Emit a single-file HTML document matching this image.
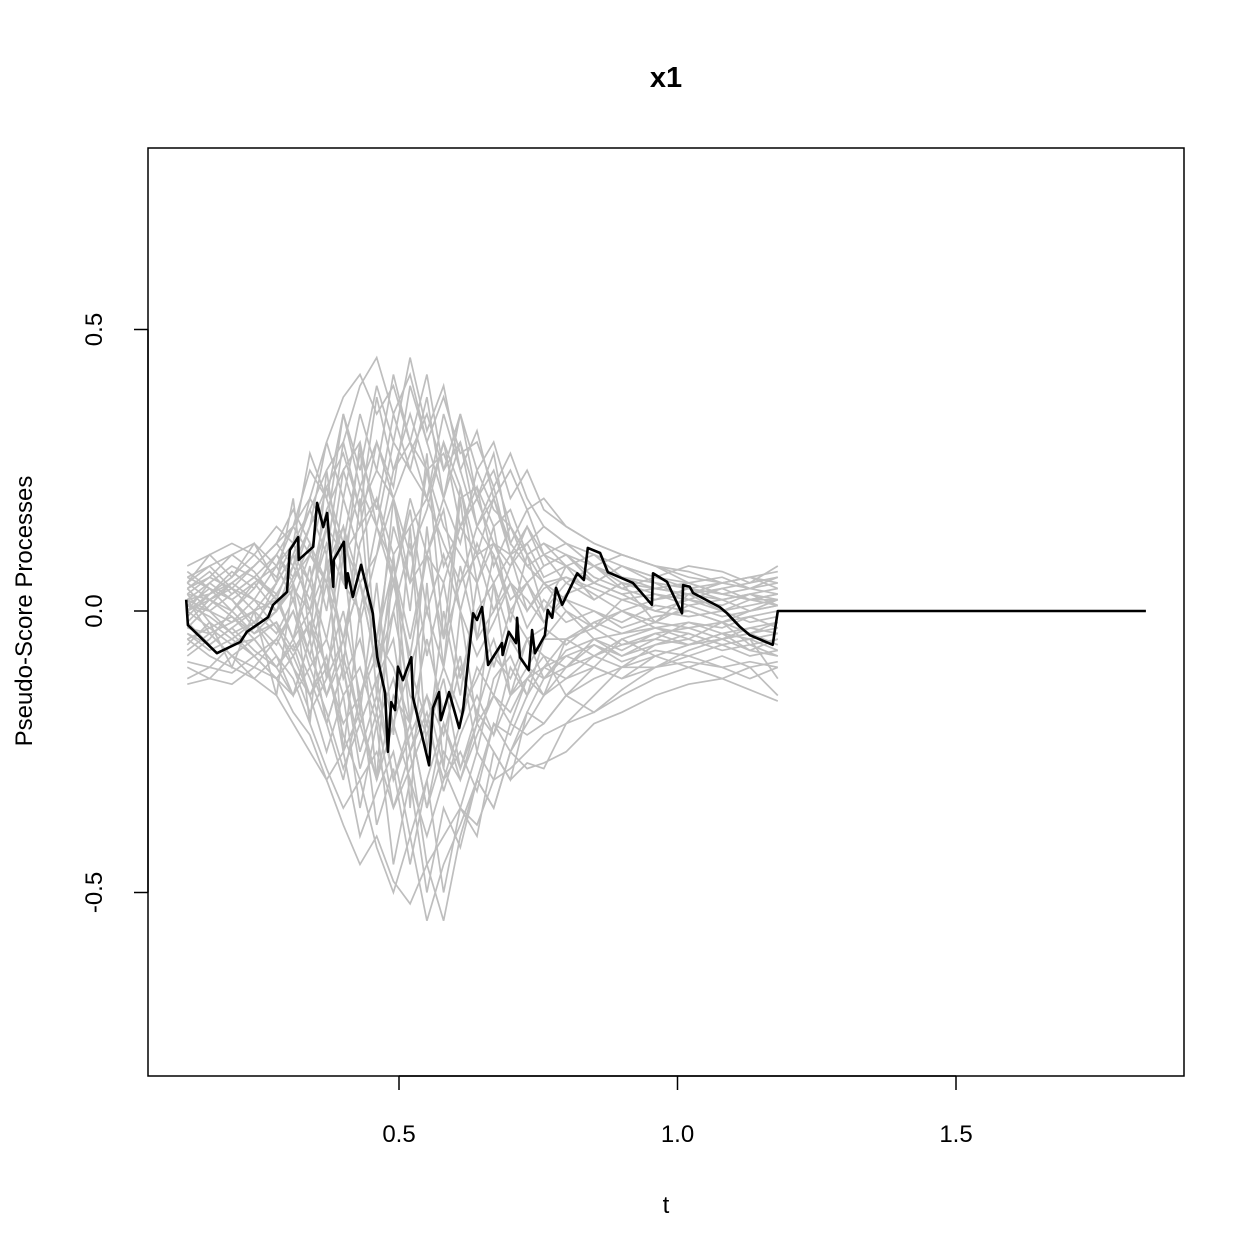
<!DOCTYPE html>
<html><head><meta charset="utf-8"><style>
html,body{margin:0;padding:0;background:#fff;}
svg{display:block;font-family:"Liberation Sans",Arial,sans-serif;}
</style></head><body>
<svg id="chart" width="1260" height="1260" viewBox="0 0 1260 1260">
<text x="666" y="87" text-anchor="middle" font-size="29" font-weight="bold">x1</text>
<g id="gray"></g>
<g id="obs"></g>
<rect x="148" y="148" width="1036" height="928" fill="none" stroke="#000" stroke-width="1.5"/>
<g id="xaxis"></g>
<g id="yaxis"></g>
<text x="666" y="1213" text-anchor="middle" font-size="24">t</text>
<text transform="translate(32,611) rotate(-90)" text-anchor="middle" font-size="24">Pseudo-Score Processes</text>
</svg>
<script>
const xTicks=[0.5,1.0,1.5];
const xTickLabels=["0.5","1.0","1.5"];
const yTicks=[-0.5,0.0,0.5];
const yTickLabels=["-0.5","0.0","0.5"];
const grayT=[0.12,0.16,0.2,0.24,0.28,0.31,0.34,0.37,0.40,0.43,0.46,0.49,0.52,0.55,0.58,0.61,0.64,0.67,0.70,0.73,0.76,0.80,0.85,0.90,0.96,1.02,1.08,1.13,1.18];
const grayS1=[0.02,0.05,0.08,0.06,0.1,0.15,0.2,0.3,0.38,0.42,0.35,0.4,0.3,0.25,0.28,0.2,0.22,0.15,0.18,0.1,0.12,0.08,0.1,0.06,0.05,0.04,0.03,0.02,0.03];
const grayS2=[-0.05,-0.08,-0.1,-0.12,-0.15,-0.2,-0.25,-0.3,-0.38,-0.45,-0.4,-0.48,-0.52,-0.45,-0.4,-0.35,-0.38,-0.3,-0.28,-0.25,-0.22,-0.2,-0.18,-0.15,-0.12,-0.1,-0.08,-0.1,-0.09];
const grayS3=[0.05,0.08,0.1,0.07,0.02,-0.05,0.05,0.15,0.1,0.22,0.3,0.2,0.28,0.35,0.25,0.3,0.2,0.25,0.15,0.1,0.05,0.02,0.0,-0.02,0.01,0.0,-0.02,0.0,0.01];
const grayS4=[-0.1,-0.12,-0.08,-0.05,-0.1,-0.15,-0.05,-0.2,-0.1,-0.25,-0.15,-0.3,-0.2,-0.35,-0.25,-0.3,-0.2,-0.25,-0.3,-0.27,-0.28,-0.2,-0.15,-0.1,-0.08,-0.1,-0.12,-0.1,-0.15];
const grayS5=[0.0,0.03,0.05,0.02,0.08,0.12,0.05,0.18,0.25,0.15,0.3,0.22,0.4,0.3,0.2,0.35,0.25,0.3,0.2,0.25,0.18,0.15,0.12,0.1,0.08,0.05,0.06,0.04,0.05];
const grayS6=[0.03,-0.02,-0.05,-0.08,-0.05,0.0,-0.1,-0.05,-0.15,-0.1,-0.2,-0.12,-0.25,-0.15,-0.22,-0.1,-0.18,-0.08,-0.12,-0.05,-0.08,-0.1,-0.05,-0.07,-0.04,-0.06,-0.05,-0.03,-0.04];
const grayS7=[-0.02,0.02,0.0,0.04,0.1,0.05,0.12,0.0,0.2,0.1,-0.05,0.15,0.05,0.1,-0.05,0.05,0.1,0.0,0.08,0.12,0.15,0.12,0.1,0.08,0.06,0.05,0.03,0.02,0.02];
const grayS8=[0.06,0.04,0.02,-0.02,-0.08,-0.12,-0.2,-0.28,-0.35,-0.3,-0.42,-0.5,-0.4,-0.55,-0.45,-0.38,-0.3,-0.35,-0.25,-0.2,-0.15,-0.12,-0.1,-0.12,-0.1,-0.08,-0.06,-0.08,-0.07];
const grayS9=[-0.04,-0.06,-0.03,0.0,0.05,0.1,0.18,0.25,0.3,0.4,0.45,0.35,0.42,0.3,0.38,0.28,0.3,0.22,0.28,0.2,0.15,0.12,0.08,0.1,0.08,0.07,0.05,0.06,0.04];
const grayS10=[0.01,0.0,-0.02,0.0,0.02,-0.05,0.0,0.08,-0.05,0.05,-0.1,0.0,0.12,-0.08,0.05,-0.12,0.0,0.05,-0.05,-0.1,-0.05,0.0,-0.05,-0.08,-0.05,-0.02,-0.04,-0.03,-0.02];
const grayS11=[-0.08,-0.05,0.0,0.05,0.08,0.02,-0.08,-0.15,-0.05,-0.2,-0.3,-0.2,-0.1,-0.2,-0.3,-0.2,-0.1,-0.15,-0.05,-0.1,-0.15,-0.05,-0.02,0.0,-0.03,-0.05,-0.02,-0.06,-0.05];
const grayS12=[0.04,0.06,0.1,0.12,0.08,0.15,0.25,0.2,0.1,0.15,0.2,0.1,0.15,0.2,0.12,0.05,0.15,0.1,0.02,0.05,0.0,0.05,0.02,0.05,0.03,0.02,0.0,0.01,0.02];
const grayS13=[-0.03,-0.04,-0.08,-0.1,-0.12,-0.08,-0.15,-0.1,-0.22,-0.3,-0.25,-0.35,-0.28,-0.2,-0.1,-0.18,-0.12,-0.05,-0.15,-0.12,-0.08,-0.15,-0.18,-0.14,-0.1,-0.07,-0.05,-0.07,-0.08];
const grayS14=[0.02,0.0,0.03,0.06,0.03,0.08,0.15,0.3,0.2,0.35,0.25,0.2,0.1,0.18,0.3,0.22,0.1,0.12,0.05,0.0,0.04,0.06,0.03,0.0,0.02,0.03,0.02,0.03,0.04];
const grayS15=[-0.12,-0.1,-0.06,-0.03,0.0,0.04,0.0,-0.1,-0.2,-0.15,-0.08,-0.2,-0.3,-0.4,-0.3,-0.25,-0.32,-0.2,-0.22,-0.15,-0.1,-0.05,-0.08,-0.05,-0.03,-0.04,-0.06,-0.05,-0.12];
const grayS16=[0.07,0.04,0.0,-0.04,0.0,0.06,0.1,0.05,0.15,0.05,0.1,0.25,0.35,0.25,0.15,0.1,0.05,0.12,0.08,0.15,0.1,0.08,0.05,0.08,0.05,0.02,0.04,0.05,0.06];
const grayS17=[0.0,-0.03,-0.06,-0.05,-0.02,-0.1,-0.18,-0.12,-0.05,0.05,-0.05,0.08,-0.1,0.0,0.1,0.0,-0.08,-0.02,0.05,0.02,-0.02,0.03,0.05,0.03,0.0,-0.01,0.0,-0.02,-0.01];
const grayS18=[0.03,0.02,0.05,0.08,0.12,0.18,0.12,0.05,0.25,0.3,0.15,0.05,0.2,0.1,0.05,0.15,0.2,0.12,0.1,0.05,0.08,0.1,0.06,0.04,0.06,0.08,0.07,0.05,0.08];
const grayS19=[0.05,0.1,0.06,0.12,0.05,0.2,-0.05,0.25,0.05,0.3,-0.1,0.2,0.0,0.28,-0.05,0.22,0.05,0.15,-0.02,0.1,0.0,0.08,0.02,0.05,-0.02,0.03,0.0,0.02,0.01];
const grayS20=[-0.06,-0.02,-0.1,0.0,-0.15,0.05,-0.2,0.1,-0.25,0.0,-0.3,0.1,-0.35,0.05,-0.28,0.0,-0.2,0.05,-0.15,-0.05,-0.12,-0.08,-0.1,-0.05,-0.08,-0.06,-0.04,-0.07,-0.05];
const grayS21=[0.08,0.1,0.12,0.1,0.15,0.12,0.28,0.2,0.35,0.25,0.4,0.3,0.45,0.32,0.4,0.25,0.32,0.2,0.25,0.18,0.2,0.15,0.12,0.1,0.08,0.06,0.05,0.06,0.07];
const grayS22=[-0.13,-0.12,-0.13,-0.1,-0.05,-0.1,-0.15,-0.25,-0.15,-0.35,-0.2,-0.45,-0.3,-0.5,-0.35,-0.42,-0.3,-0.35,-0.25,-0.28,-0.27,-0.25,-0.2,-0.18,-0.15,-0.13,-0.12,-0.14,-0.16];
const grayS23=[0.0,0.05,0.02,-0.03,0.05,0.1,0.0,0.15,-0.1,0.2,-0.15,0.1,-0.2,0.15,-0.1,0.2,-0.05,0.1,0.0,0.05,-0.02,0.02,-0.03,0.0,-0.02,0.01,-0.01,0.0,0.02];
const grayS24=[0.04,0.0,-0.04,-0.02,0.03,-0.05,0.08,-0.12,0.1,-0.18,0.05,-0.22,0.15,-0.25,0.0,-0.15,0.05,-0.1,0.0,-0.05,-0.03,-0.06,-0.02,-0.04,-0.02,-0.03,-0.02,-0.04,-0.03];
const grayS25=[-0.01,0.03,0.06,0.1,0.06,0.12,0.18,0.1,0.3,0.18,0.38,0.25,0.3,0.42,0.25,0.35,0.2,0.28,0.12,0.18,0.1,0.12,0.08,0.06,0.04,0.05,0.03,0.04,0.03];
const grayS26=[0.02,-0.04,-0.08,-0.12,-0.08,-0.15,-0.05,-0.2,-0.3,-0.15,-0.38,-0.28,-0.45,-0.3,-0.5,-0.35,-0.4,-0.25,-0.3,-0.18,-0.2,-0.15,-0.1,-0.12,-0.08,-0.06,-0.05,-0.04,-0.06];
const grayS27=[0.06,0.08,0.04,0.0,-0.04,0.02,0.1,0.05,-0.05,0.12,0.2,0.05,-0.08,0.1,0.18,0.0,0.12,0.05,0.1,0.0,0.05,0.0,-0.03,0.02,0.0,0.02,0.01,0.03,0.02];
const grayS28=[-0.07,-0.04,-0.02,0.02,-0.03,-0.08,-0.02,-0.15,-0.08,-0.2,-0.12,-0.05,-0.25,-0.18,-0.32,-0.22,-0.15,-0.22,-0.1,-0.15,-0.1,-0.08,-0.06,-0.09,-0.07,-0.08,-0.1,-0.09,-0.1];
const grayS29=[0.03,0.06,0.04,0.08,0.12,0.08,0.2,0.15,0.35,0.22,0.15,0.3,0.25,0.38,0.2,0.3,0.15,0.22,0.1,0.15,0.08,0.1,0.05,0.08,0.06,0.04,0.05,0.06,0.05];
const grayS30=[-0.02,-0.06,-0.03,-0.07,-0.1,-0.05,-0.12,-0.2,-0.1,-0.28,-0.18,-0.35,-0.25,-0.45,-0.55,-0.4,-0.3,-0.2,-0.25,-0.18,-0.12,-0.1,-0.08,-0.06,-0.05,-0.06,-0.04,-0.05,-0.04];
const grayS31=[0.01,0.04,0.02,0.05,0.0,0.08,0.02,0.12,0.05,0.0,0.15,0.08,-0.05,0.1,0.2,0.12,0.25,0.18,0.15,0.08,0.05,0.06,0.04,0.02,0.03,0.01,0.02,0.0,0.01];
const grayS32=[-0.04,-0.07,-0.05,-0.02,-0.06,0.0,-0.08,0.05,-0.12,-0.05,-0.18,0.0,-0.15,-0.22,-0.12,-0.28,-0.2,-0.15,-0.18,-0.12,-0.15,-0.1,-0.06,-0.08,-0.06,-0.05,-0.07,-0.06,-0.08];
const grayS33=[0.02,0.03,0.07,0.04,0.1,0.06,0.15,0.22,0.12,0.28,0.18,0.35,0.25,0.2,0.3,0.15,0.22,0.08,0.15,0.1,0.12,0.1,0.08,0.05,0.04,0.03,0.05,0.04,0.06];
const grayS34=[-0.05,-0.03,-0.01,-0.05,-0.1,-0.06,-0.15,-0.08,-0.25,-0.18,-0.3,-0.15,-0.2,-0.35,-0.2,-0.28,-0.18,-0.22,-0.15,-0.1,-0.12,-0.07,-0.05,-0.04,-0.03,-0.02,-0.03,-0.01,-0.03];
const grayS35=[0.0,0.02,0.04,0.02,0.0,0.05,-0.05,0.08,0.15,-0.02,0.1,0.2,0.05,0.25,0.08,0.15,0.1,0.2,0.12,0.08,0.1,0.05,0.08,0.04,0.02,0.04,0.02,0.03,0.01];
const grayS36=[0.05,0.02,-0.01,-0.04,-0.02,-0.07,-0.02,-0.1,0.0,-0.15,-0.05,-0.1,-0.2,-0.05,-0.18,-0.08,-0.25,-0.12,-0.08,-0.15,-0.05,-0.05,-0.03,-0.06,-0.04,-0.03,-0.05,-0.04,-0.02];
const grayS37=[-0.03,0.01,0.05,0.08,0.12,0.15,0.1,0.22,0.28,0.18,0.25,0.42,0.3,0.2,0.35,0.25,0.15,0.2,0.1,0.12,0.06,0.08,0.05,0.03,0.04,0.03,0.04,0.02,0.03];
const grayS38=[0.01,-0.01,-0.04,-0.08,-0.12,-0.18,-0.22,-0.3,-0.25,-0.4,-0.32,-0.25,-0.4,-0.3,-0.2,-0.3,-0.22,-0.15,-0.2,-0.12,-0.1,-0.12,-0.08,-0.1,-0.06,-0.04,-0.06,-0.05,-0.07];
const grayS39=[0.04,0.07,0.03,0.06,0.02,0.1,0.05,-0.05,0.12,0.05,-0.1,0.05,0.18,0.0,-0.1,0.08,-0.05,0.0,0.05,-0.03,0.02,-0.02,0.0,-0.03,-0.01,0.0,-0.02,-0.01,0.0];
const grayS40=[-0.09,-0.1,-0.11,-0.08,-0.12,-0.15,-0.1,-0.18,-0.28,-0.2,-0.12,-0.3,-0.22,-0.15,-0.28,-0.35,-0.25,-0.3,-0.2,-0.22,-0.2,-0.15,-0.12,-0.1,-0.1,-0.09,-0.1,-0.12,-0.1];
const obsT=[0.118,0.121,0.173,0.215,0.227,0.265,0.274,0.299,0.304,0.319,0.320,0.346,0.353,0.364,0.371,0.382,0.383,0.401,0.405,0.408,0.417,0.432,0.453,0.461,0.475,0.480,0.486,0.493,0.498,0.507,0.522,0.525,0.554,0.561,0.572,0.575,0.590,0.608,0.615,0.633,0.640,0.649,0.660,0.685,0.686,0.697,0.710,0.712,0.717,0.733,0.739,0.744,0.762,0.767,0.775,0.782,0.793,0.820,0.832,0.839,0.861,0.875,0.920,0.954,0.956,0.981,1.008,1.010,1.022,1.028,1.076,1.089,1.112,1.130,1.171,1.180,1.841];
const obsV=[0.020,-0.025,-0.075,-0.055,-0.037,-0.011,0.011,0.034,0.108,0.131,0.091,0.114,0.192,0.149,0.174,0.043,0.091,0.123,0.041,0.067,0.025,0.082,-0.004,-0.082,-0.146,-0.250,-0.162,-0.176,-0.099,-0.123,-0.082,-0.153,-0.274,-0.172,-0.144,-0.194,-0.144,-0.208,-0.176,-0.004,-0.016,0.007,-0.096,-0.057,-0.078,-0.037,-0.057,-0.012,-0.082,-0.105,-0.034,-0.075,-0.043,0.002,-0.012,0.041,0.011,0.067,0.055,0.112,0.103,0.069,0.050,0.011,0.067,0.052,-0.004,0.046,0.043,0.032,0.007,-0.004,-0.028,-0.043,-0.060,0.0,0.0];

const NS="http://www.w3.org/2000/svg";
function sx(t){return 399+(t-0.5)*557;}
function sy(v){return 611-v*563;}
function mk(tag,attrs,parent){const e=document.createElementNS(NS,tag);for(const k in attrs)e.setAttribute(k,attrs[k]);parent.appendChild(e);return e;}
const gray=document.getElementById('gray');
const allGray=[grayS1,grayS2,grayS3,grayS4,grayS5,grayS6,grayS7,grayS8,grayS9,grayS10,grayS11,grayS12,grayS13,grayS14,grayS15,grayS16,grayS17,grayS18,grayS19,grayS20,grayS21,grayS22,grayS23,grayS24,grayS25,grayS26,grayS27,grayS28,grayS29,grayS30,grayS31,grayS32,grayS33,grayS34,grayS35,grayS36,grayS37,grayS38,grayS39,grayS40];
allGray.forEach((s,i)=>{
  const d=s.map((v,j)=>(j?'L':'M')+sx(grayT[j]).toFixed(1)+','+sy(v).toFixed(1)).join('');
  const p=mk('path',{d:d,fill:'none',stroke:'#bebebe','stroke-width':1.7},gray);
  
  
});
const obs=document.getElementById('obs');
const od=obsV.map((v,j)=>(j?'L':'M')+sx(obsT[j]).toFixed(1)+','+sy(v).toFixed(1)).join('');
const op=mk('path',{d:od,fill:'none',stroke:'#000','stroke-width':2.6,'stroke-linejoin':'round'},obs);


const xa=document.getElementById('xaxis');
mk('line',{x1:sx(xTicks[0]),x2:sx(xTicks[xTicks.length-1]),y1:1076,y2:1076,stroke:'#000','stroke-width':1.5},xa);
xTicks.forEach((t,i)=>{
  const l=mk('line',{x1:sx(t),x2:sx(t),y1:1076,y2:1090,stroke:'#000','stroke-width':1.5},xa);
  
  
  const tx=mk('text',{x:sx(t),y:1142,'text-anchor':'middle','font-size':24},xa);
  tx.textContent=xTickLabels[i];
  
  
});
const ya=document.getElementById('yaxis');
mk('line',{x1:148,x2:148,y1:sy(yTicks[0]),y2:sy(yTicks[yTicks.length-1]),stroke:'#000','stroke-width':1.5},ya);
yTicks.forEach((v,i)=>{
  const l=mk('line',{x1:134,x2:148,y1:sy(v),y2:sy(v),stroke:'#000','stroke-width':1.5},ya);
  
  
  const tx=mk('text',{transform:'translate(102,'+sy(v)+') rotate(-90)','text-anchor':'middle','font-size':24},ya);
  tx.textContent=yTickLabels[i];
  
  
});
</script>
</body></html>
